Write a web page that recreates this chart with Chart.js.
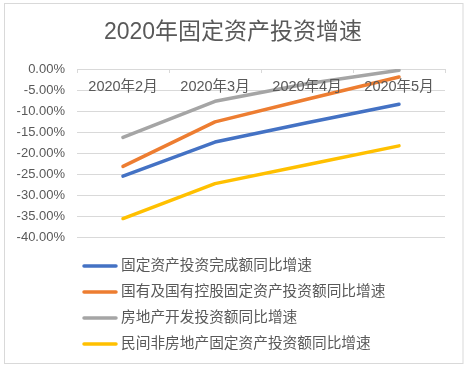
<!DOCTYPE html>
<html>
<head>
<meta charset="utf-8">
<script src="https://cdn.jsdelivr.net/npm/chart.js@4/dist/chart.umd.min.js"></script>
<style>
  html, body { margin: 0; padding: 0; background: #fff; }
  #wrap { width: 466px; height: 367px; position: relative; }
</style>
</head>
<body>
<div id="wrap"><canvas id="c" width="466" height="367"></canvas></div>
<script>
const titleText = '2020年固定资产投资增速';
const categories = ['2020年2月', '2020年3月', '2020年4月', '2020年5月'];
const seriesNames = [
  '固定资产投资完成额同比增速',
  '国有及国有控股固定资产投资额同比增速',
  '房地产开发投资额同比增速',
  '民间非房地产固定资产投资额同比增速'
];
const fixedAsset = [-25.5, -17.4, -12.8, -8.4];
const stateOwned = [-23.2, -12.6, -7.2, -1.9];
const realEstate = [-16.3, -7.7, -3.5, -0.3];
const privateNonRE = [-35.6, -27.3, -22.8, -18.3];
const yTicks = [0, -5, -10, -15, -20, -25, -30, -35, -40];
const colors = ['#4472C4', '#ED7D31', '#A5A5A5', '#FFC000'];

const FONT = '"Liberation Sans", "Noto Sans CJK SC", sans-serif';
const TEXT = '#595959';
const GRID = '#d9d9d9';

const decor = {
  id: 'decor',
  beforeDraw(chart) {
    const ctx = chart.ctx;
    ctx.save();
    ctx.fillStyle = '#fff';
    ctx.fillRect(0, 0, chart.width, chart.height);
    ctx.strokeStyle = GRID;
    ctx.lineWidth = 1;
    ctx.strokeRect(4.5, 3.5, 458.5, 360);
    ctx.restore();
  },
  afterDraw(chart) {
    const ctx = chart.ctx;
    const xs = chart.scales.x, ys = chart.scales.y;
    const y0 = ys.getPixelForValue(0);
    ctx.save();
    // title
    ctx.fillStyle = TEXT;
    ctx.font = '23px ' + FONT;
    ctx.textAlign = 'center';
    ctx.textBaseline = 'middle';
    ctx.fillText(titleText, 233, 33);
    // boundary tick marks
    const step = xs.getPixelForValue(1) - xs.getPixelForValue(0);
    ctx.strokeStyle = GRID;
    ctx.lineWidth = 1;
    for (let i = 0; i <= categories.length; i++) {
      const x = Math.round(xs.getPixelForValue(i) - step / 2) + 0.5;
      ctx.beginPath();
      ctx.moveTo(x, y0);
      ctx.lineTo(x, y0 + 4);
      ctx.stroke();
    }
    // category labels
    ctx.font = '14.5px ' + FONT;
    categories.forEach((c, i) => {
      ctx.fillText(c, xs.getPixelForValue(i), y0 + 18);
    });
    // legend
    ctx.font = '14.7px ' + FONT;
    ctx.textAlign = 'left';
    chart.data.datasets.forEach((ds, i) => {
      const y = 266 + i * 26;
      ctx.strokeStyle = ds.borderColor;
      ctx.lineWidth = 3.5;
      ctx.lineCap = 'round';
      ctx.beginPath();
      ctx.moveTo(84, y);
      ctx.lineTo(116, y);
      ctx.stroke();
      ctx.fillStyle = TEXT;
      ctx.fillText(ds.label, 121, y);
    });
    ctx.restore();
  }
};

const seriesData = [fixedAsset, stateOwned, realEstate, privateNonRE];

new Chart(document.getElementById('c'), {
  type: 'line',
  data: {
    labels: categories,
    datasets: seriesData.map((d, i) => ({
      label: seriesNames[i],
      data: d,
      borderColor: colors[i],
      backgroundColor: colors[i],
      borderWidth: 3.5,
      borderCapStyle: 'round',
      borderJoinStyle: 'round',
      pointRadius: 0,
      tension: 0,
      fill: false
    }))
  },
  options: {
    responsive: false,
    animation: false,
    devicePixelRatio: 1,
    layout: { padding: { left: 5, right: 21, top: 64, bottom: 130 } },
    plugins: {
      legend: { display: false },
      tooltip: { enabled: false },
      title: { display: false }
    },
    scales: {
      x: {
        position: 'top',
        offset: true,
        ticks: { display: false },
        grid: { display: false, drawTicks: false, offset: true },
        border: { display: false },
        afterFit(s) { s.height = 5; }
      },
      y: {
        min: -40,
        max: 0,
        afterBuildTicks(s) { s.ticks = yTicks.map(v => ({ value: v })); },
        ticks: {
          color: TEXT,
          padding: 12,
          font: { size: 13, family: FONT },
          callback: v => v.toFixed(2) + '%'
        },
        grid: { color: GRID, lineWidth: 1, drawTicks: false },
        border: { display: false },
        afterFit(s) { s.width = 72; }
      }
    }
  },
  plugins: [decor]
});
</script>
</body>
</html>
